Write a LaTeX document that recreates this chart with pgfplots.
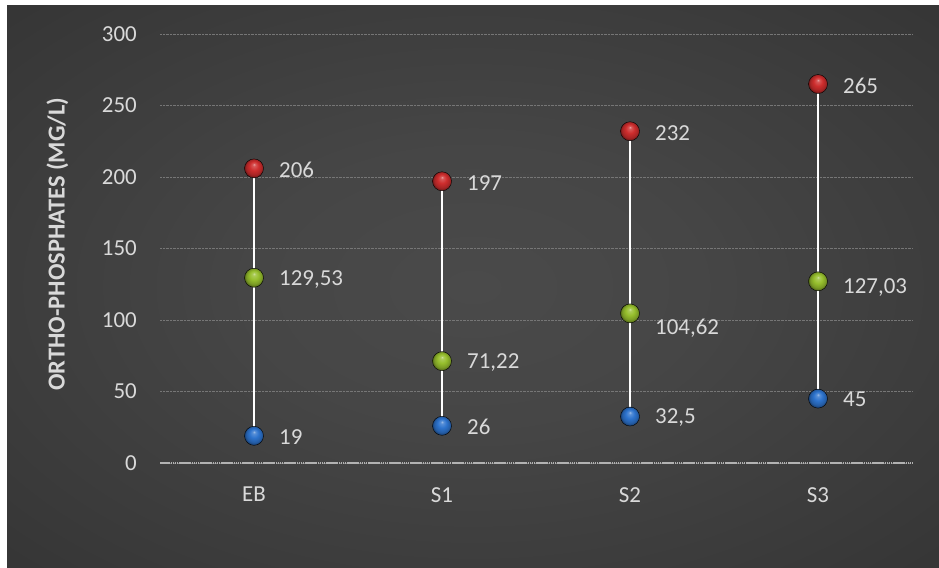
\documentclass[border=0pt]{standalone}
\usepackage{pgfplots}
\pgfplotsset{compat=1.18}
\usepackage{pgfplotstable}
\usepackage{fontspec}
\setmainfont{Carlito}

\definecolor{txt}{RGB}{217,217,217}
\definecolor{bg0}{RGB}{74,74,74}
\definecolor{bg1}{RGB}{70,70,70}
\definecolor{bg2}{RGB}{56,56,56}
\definecolor{bg3}{RGB}{42,42,42}
\definecolor{bg4}{RGB}{32,32,32}
\definecolor{gridc}{RGB}{118,118,118}
\definecolor{zeroc}{RGB}{178,178,178}
\definecolor{hiC}{RGB}{205,45,45}
\definecolor{midC}{RGB}{150,190,45}
\definecolor{loC}{RGB}{45,115,205}

% soft panel background
\pgfdeclareradialshading{panel}{\pgfpoint{0bp}{0bp}}{%
  color(0bp)=(bg0); color(12bp)=(bg1); color(32bp)=(bg2);
  color(50bp)=(bg3); color(71bp)=(bg4)}

% glossy sphere: highlight on top, deeper tone at the lower rim
\makeatletter
\pgfdeclareradialshading[tikz@ball]{ball}{\pgfqpoint{0bp}{11bp}}{%
  color(0bp)=(tikz@ball!45!white); color(4bp)=(tikz@ball!80!white);
  color(12bp)=(tikz@ball); color(21bp)=(tikz@ball!80!black);
  color(25bp)=(tikz@ball!55!black); color(30bp)=(tikz@ball!55!black)}
\makeatother

% x: category index, y: value, label: printed value, dy: label offset (bp)
\pgfplotstableread{
x y label dy
0 206 206 -1.5
1 197 197 -1.5
2 232 232 -1.5
3 265 265 -1.5
}\hightab
\pgfplotstableread{
x y label dy
0 129.53 129,53 -1.5
1 71.22 71,22 -1
2 104.62 104,62 -15
3 127.03 127,03 -6
}\midtab
\pgfplotstableread{
x y label dy
0 19 19 -1.5
1 26 26 -1
2 32.5 32,5 -1
3 45 45 -1
}\lowtab

\newcommand\lblfont{\fontsize{23}{27}\selectfont}

\pgfplotsset{
  valmarks/.style={
    only marks, mark=ball, mark size=9.5bp, ball color=#1,
    nodes near coords,
    point meta=explicit symbolic,
    visualization depends on={\thisrow{dy}\as\dy},
    nodes near coords style={anchor=west, inner sep=0pt, xshift=25bp,
      yshift=\dy bp, font=\lblfont, text=txt},
  },
}

\begin{document}
\begin{tikzpicture}[x=1bp,y=1bp]
\useasboundingbox (0,0) rectangle (939,568);
\fill[white] (0,0) rectangle (939,568);
\shade[shading=panel] (7,0) rectangle (939,562);

\begin{axis}[
  at={(160bp,105bp)}, anchor=south west,
  scale only axis, width=752bp, height=429bp,
  xmin=-0.5, xmax=3.5, ymin=0, ymax=300,
  xtick={0,1,2,3}, xticklabels={EB,S1,S2,S3},
  ytick={0,50,...,300},
  axis line style={draw=none},
  major tick length=0pt,
  ymajorgrids,
  grid style={gridc, densely dotted, line width=0.6bp},
  /pgf/number format/assume math mode=true,
  tick label style={font=\lblfont, text=txt},
  yticklabel style={anchor=east, inner sep=0pt, xshift=-23bp},
  xticklabel style={anchor=north, inner sep=0pt, yshift=-24bp},
  ylabel={ORTHO-PHOSPHATES (MG/L)},
  ylabel style={at={(axis description cs:-0.1363,0.51)}, anchor=center,
    font=\bfseries\fontsize{24.5}{28}\selectfont, text=txt},
  clip=false,
]
% zero baseline
\draw[zeroc, line width=2.8bp, dash pattern=on 1.6bp off 0.5bp]
  (axis cs:-0.5,0) -- (axis cs:3.5,0);

% high-low connectors
\addplot[white, line width=1.6bp, no marks, unbounded coords=jump, forget plot]
  coordinates {
  (0,19) (0,206) (0,nan)
  (1,26) (1,197) (1,nan)
  (2,32.5) (2,232) (2,nan)
  (3,45) (3,265)
};

\addplot[valmarks=hiC]  table[x=x, y=y, meta=label] {\hightab};
\addplot[valmarks=midC] table[x=x, y=y, meta=label] {\midtab};
\addplot[valmarks=loC]  table[x=x, y=y, meta=label] {\lowtab};
\end{axis}
\end{tikzpicture}
\end{document}
